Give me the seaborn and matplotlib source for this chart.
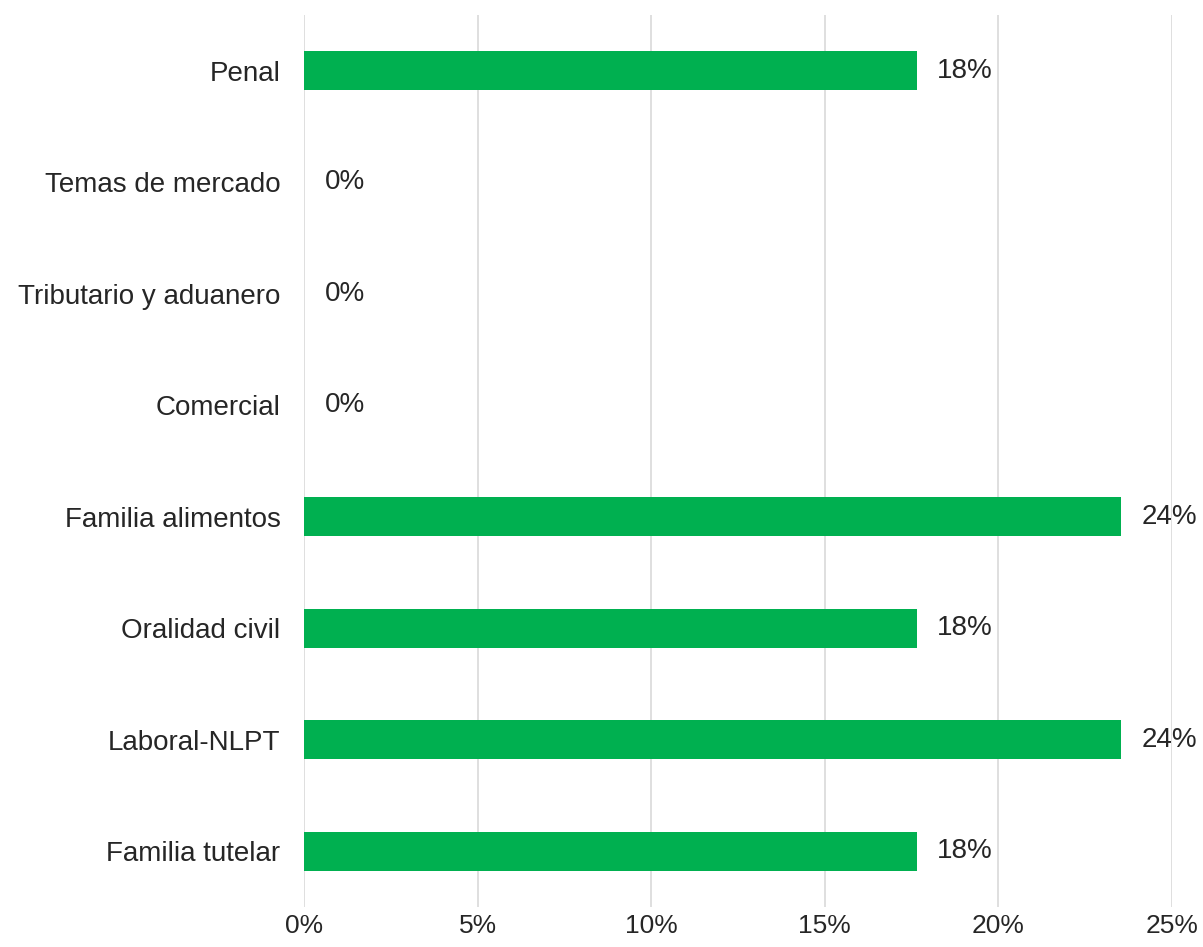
import pandas as pd
import matplotlib.pyplot as plt
import seaborn as sns
from matplotlib.ticker import PercentFormatter

sns.set_style('white')
plt.rcParams['font.family'] = ['Liberation Sans', 'DejaVu Sans']
plt.rcParams.update({'font.size': 20})

categorias = ['Penal', 'Temas de mercado', 'Tributario y aduanero', 'Comercial',
              'Familia alimentos', 'Oralidad civil', 'Laboral-NLPT', 'Familia tutelar']
valores = [3/17, 0, 0, 0, 4/17, 3/17, 4/17, 3/17]
etiquetas = ['18%', '0%', '0%', '0%', '24%', '18%', '24%', '18%']

df = pd.DataFrame({'categoria': categorias, 'valor': valores})

fig = plt.figure(figsize=(12.03, 9.47), dpi=100)
ax = fig.add_axes([0.2527, 0.042, 0.7213, 0.942])

sns.barplot(data=df, y='categoria', x='valor', orient='h', color='#00b050',
            width=0.35, saturation=1, linewidth=0, ax=ax)

ax.bar_label(ax.containers[0], labels=etiquetas, padding=15, fontsize=20, color='#262626')

ax.set_xlim(0, 0.25)
ax.set_xticks([0, 0.05, 0.10, 0.15, 0.20, 0.25])
ax.xaxis.set_major_formatter(PercentFormatter(1.0, decimals=0))
ax.grid(axis='x', color='#d9d9d9', linewidth=1.2)
ax.set_axisbelow(True)
ax.set_xlabel('')
ax.set_ylabel('')
sns.despine(ax=ax, left=True, bottom=True, top=True, right=True)
ax.tick_params(axis='y', length=0, pad=17, labelsize=20, labelcolor='#262626')
ax.tick_params(axis='x', length=0, pad=5, labelsize=19, labelcolor='#262626')

fig.savefig('out.png', dpi=100)
plt.close()
